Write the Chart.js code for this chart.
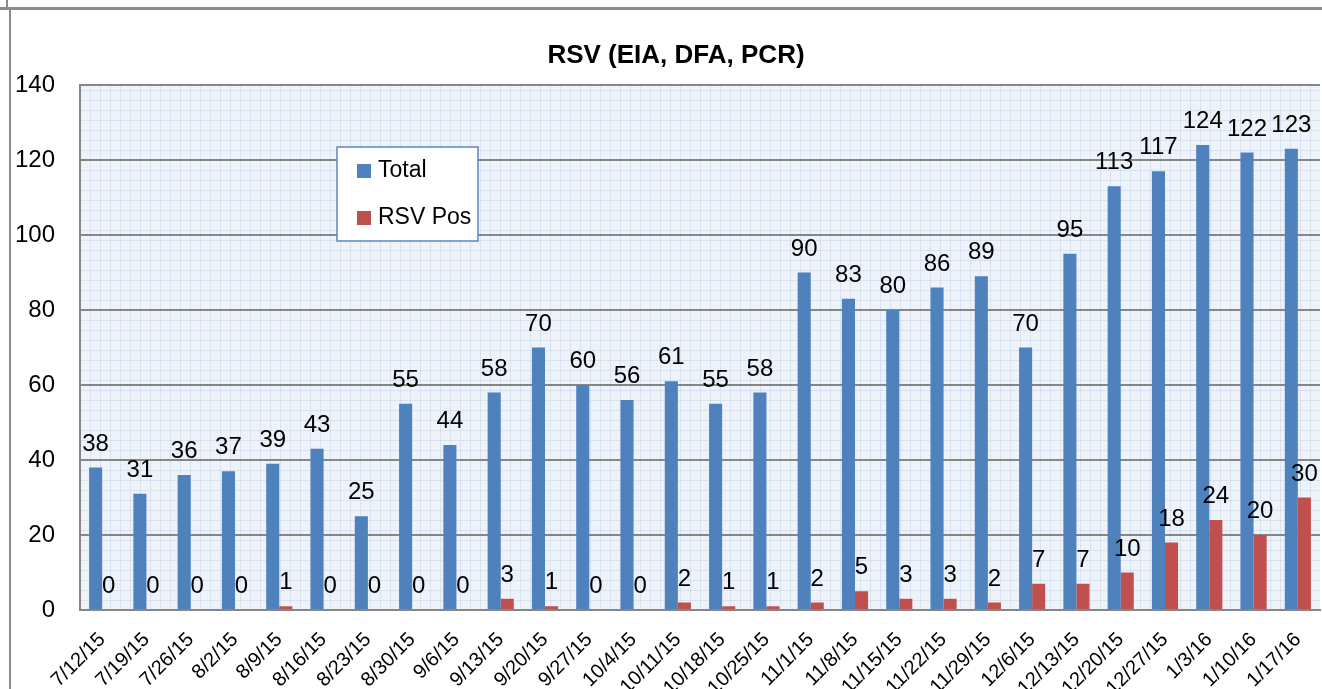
<!DOCTYPE html>
<html lang="en">
<head>
    <meta charset="UTF-8">
    <title>RSV (EIA, DFA, PCR)</title>
    <script src="https://cdn.jsdelivr.net/npm/chart.js"></script>
    <style>
        body {
            margin: 0;
            background: #fff;
        }
        #chart-container {
            width: 1322px;
            height: 689px;
        }
    </style>
</head>
<body>
    <div id="chart-container">
        <canvas id="rsvChart" width="1322" height="689"></canvas>
    </div>

    <script>
        const weeks = ['7/12/15', '7/19/15', '7/26/15', '8/2/15', '8/9/15', '8/16/15', '8/23/15', '8/30/15',
            '9/6/15', '9/13/15', '9/20/15', '9/27/15', '10/4/15', '10/11/15', '10/18/15', '10/25/15',
            '11/1/15', '11/8/15', '11/15/15', '11/22/15', '11/29/15', '12/6/15', '12/13/15', '12/20/15',
            '12/27/15', '1/3/16', '1/10/16', '1/17/16'];
        const totalTests = [38, 31, 36, 37, 39, 43, 25, 55, 44, 58, 70, 60, 56, 61, 55, 58,
            90, 83, 80, 86, 89, 70, 95, 113, 117, 124, 122, 123];
        const rsvPositive = [0, 0, 0, 0, 1, 0, 0, 0, 0, 3, 1, 0, 0, 2, 1, 1,
            2, 5, 3, 3, 2, 7, 7, 10, 18, 24, 20, 30];
        const yTicks = [0, 20, 40, 60, 80, 100, 120, 140];

        const fontFamily = '"Liberation Sans", Arial, sans-serif';
        const gridGray = '#868686';

        // page frame, title and the patterned plot background
        const backgroundPlugin = {
            id: 'background',
            beforeDraw(chart) {
                const ctx = chart.ctx;
                const area = chart.chartArea;
                ctx.save();
                ctx.fillStyle = '#fff';
                ctx.fillRect(0, 0, chart.width, chart.height);

                ctx.fillStyle = '#8c8c8c';
                ctx.fillRect(0, 7, chart.width, 3);
                ctx.fillRect(9, 9, 2, chart.height - 9);
                ctx.fillRect(6, 0, 2, 8);

                ctx.fillStyle = '#000';
                ctx.font = 'bold 26px ' + fontFamily;
                ctx.textAlign = 'center';
                ctx.textBaseline = 'alphabetic';
                ctx.fillText('RSV (EIA, DFA, PCR)', 676, 63);

                ctx.fillStyle = '#eef2f9';
                ctx.fillRect(area.left, area.top, area.right - area.left, area.bottom - area.top);
                ctx.strokeStyle = 'rgba(200, 214, 235, 0.55)';
                ctx.lineWidth = 1;
                ctx.beginPath();
                for (let x = area.left + 10; x < area.right; x += 10) {
                    ctx.moveTo(x + 0.5, area.top);
                    ctx.lineTo(x + 0.5, area.bottom);
                }
                for (let y = area.bottom - 10; y > area.top; y -= 10) {
                    ctx.moveTo(area.left, y + 0.5);
                    ctx.lineTo(area.right, y + 0.5);
                }
                ctx.stroke();
                ctx.restore();
            }
        };

        // value above each bar
        const valueLabelPlugin = {
            id: 'valueLabels',
            afterDatasetsDraw(chart) {
                const ctx = chart.ctx;
                ctx.save();
                ctx.font = '24px ' + fontFamily;
                ctx.fillStyle = '#000';
                ctx.textAlign = 'center';
                ctx.textBaseline = 'alphabetic';
                chart.data.datasets.forEach((ds, i) => {
                    chart.getDatasetMeta(i).data.forEach((bar, j) => {
                        ctx.fillText(String(ds.data[j]), bar.x, bar.y - 17);
                    });
                });
                ctx.restore();
            }
        };

        // boxed legend sitting inside the plot
        const boxLegendPlugin = {
            id: 'boxLegend',
            afterDraw(chart) {
                const ctx = chart.ctx;
                const box = { x: 337, y: 147, w: 141, h: 94 };
                ctx.save();
                ctx.fillStyle = '#fff';
                ctx.fillRect(box.x, box.y, box.w, box.h);
                ctx.strokeStyle = '#5b87c0';
                ctx.lineWidth = 1.5;
                ctx.strokeRect(box.x, box.y, box.w, box.h);
                ctx.font = '23px ' + fontFamily;
                ctx.textBaseline = 'middle';
                ctx.textAlign = 'left';
                chart.data.datasets.forEach((ds, i) => {
                    const cy = 171 + i * 47;
                    ctx.fillStyle = ds.backgroundColor;
                    ctx.fillRect(357, cy - 7, 14, 14);
                    ctx.fillStyle = '#000';
                    ctx.fillText(ds.label, 378, cy);
                });
                ctx.restore();
            }
        };

        const ctx = document.getElementById('rsvChart').getContext('2d');
        const rsvChart = new Chart(ctx, {
            type: 'bar',
            data: {
                labels: weeks,
                datasets: [{
                    label: 'Total',
                    data: totalTests,
                    backgroundColor: '#4f81bd',
                    borderWidth: 0
                }, {
                    label: 'RSV Pos',
                    data: rsvPositive,
                    backgroundColor: '#c0504d',
                    borderWidth: 0
                }]
            },
            options: {
                responsive: false,
                animation: false,
                categoryPercentage: 0.59,
                barPercentage: 1,
                layout: {
                    padding: { top: 85, right: 2, left: 0, bottom: 0 }
                },
                plugins: {
                    legend: { display: false },
                    title: { display: false },
                    tooltip: { enabled: false }
                },
                scales: {
                    x: {
                        grid: { display: false },
                        border: { color: gridGray, width: 2 },
                        ticks: {
                            color: '#000',
                            font: { family: fontFamily, size: 20 },
                            minRotation: 45,
                            maxRotation: 45,
                            autoSkip: false,
                            padding: 10
                        },
                        afterFit(scale) {
                            scale.height = 79;
                            scale.paddingRight = 0;
                            scale.paddingLeft = 0;
                        }
                    },
                    y: {
                        min: yTicks[0],
                        max: yTicks[yTicks.length - 1],
                        afterBuildTicks(scale) {
                            scale.ticks = yTicks.map(v => ({ value: v }));
                        },
                        grid: { color: gridGray, lineWidth: 2, drawTicks: false },
                        border: { color: gridGray, width: 2 },
                        ticks: {
                            color: '#000',
                            font: { family: fontFamily, size: 24 },
                            padding: 25
                        },
                        afterFit(scale) {
                            scale.width = 80;
                        }
                    }
                }
            },
            plugins: [backgroundPlugin, valueLabelPlugin, boxLegendPlugin]
        });
    </script>
</body>
</html>
